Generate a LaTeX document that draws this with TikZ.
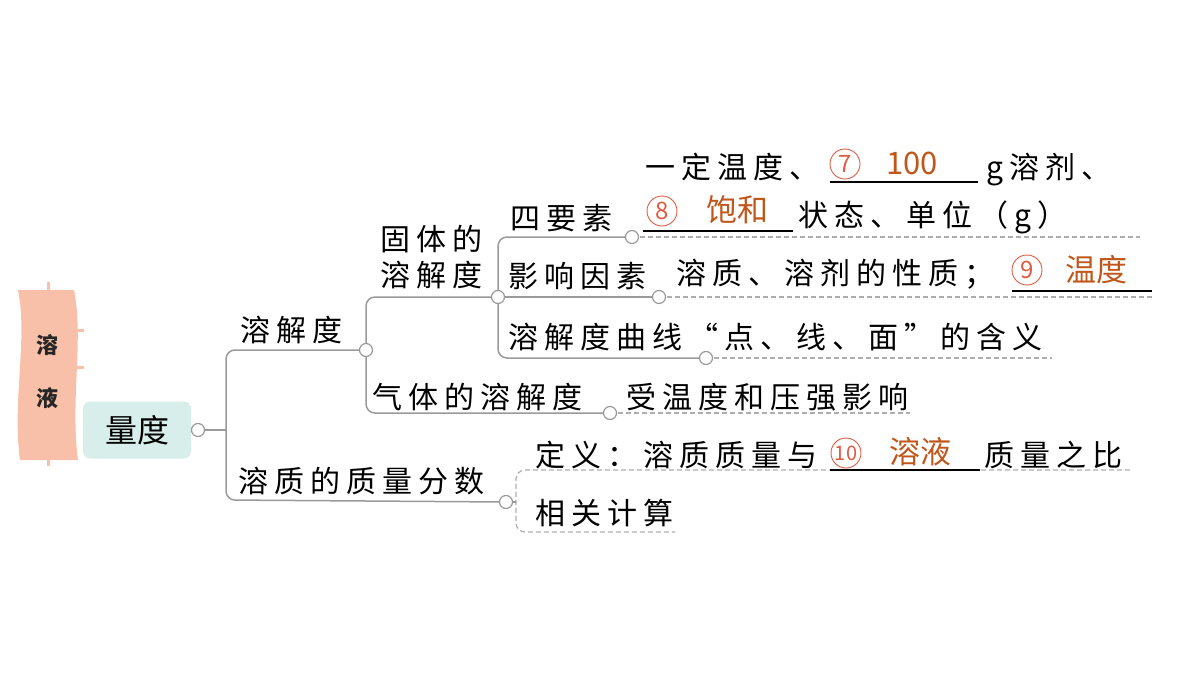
\documentclass[tikz,border=0pt]{standalone}
\usepackage{fontspec}
\newfontfamily\cjk[LetterSpace=20]{Noto Sans CJK SC}
\newfontfamily\cjkb{Noto Sans CJK SC}
\definecolor{ans}{HTML}{C0561A}
\definecolor{circ}{HTML}{E05A40}
\definecolor{pinkb}{HTML}{F8C0A8}
\definecolor{tealb}{HTML}{D8EEEA}
\definecolor{lin}{HTML}{9A9A9A}
\begin{document}
\begin{tikzpicture}[x=1pt,y=-1pt,
 t/.style={inner sep=0pt,anchor=base west,font=\fontsize{30}{32}\selectfont\cjk},
 a/.style={inner sep=0pt,anchor=base,text=ans,font=\fontsize{31}{33}\selectfont\cjkb},
 cn/.style={text=circ,inner sep=0pt,font=\fontsize{24}{26}\selectfont\cjkb,
   append after command={\pgfextra{\draw[circ,line width=0.9pt] (\tikzlastnode.center) circle[radius=15pt];}}},
 dot/.style={circle,draw=lin,fill=white,inner sep=0pt,minimum size=13pt,line width=1.2pt},
 br/.style={draw=lin,line width=1.5pt,rounded corners=9pt},
 dl/.style={draw=lin!80,line width=1.2pt,dash pattern=on 5pt off 3pt},
 ul/.style={line width=1.3pt}]
\useasboundingbox (0,0) rectangle (1200,675);
% banner
\draw[pinkb,line width=3pt] (48,282)--(48,290) (75,330)--(84,330) (75,367)--(84,367) (48,458)--(48,466);
\fill[pinkb] (18,290) .. controls (28,340) and (12,400) .. (20,460) -- (78,460) .. controls (70,400) and (84,340) .. (74,290) -- cycle;
\node[font=\fontsize{22}{24}\selectfont\cjkb\bfseries,text=black!85] (c1) at (47,345) {溶};
\node[font=\fontsize{22}{24}\selectfont\cjkb\bfseries,text=black!85] (c2) at (47,398) {液};
% root
\node[fill=tealb,rounded corners=7pt,minimum width=108pt,minimum height=57pt,font=\fontsize{32}{34}\selectfont\cjkb] (root) at (137,430) {量度};
\coordinate (rootc) at (198,430);
\coordinate (s1) at (366,350);
\coordinate (s2) at (506,502);
\draw[br] (root.east)--(226,430);
\draw[br] (s1)--(226,350)--(226,500)--(s2);
\node[t] (l1) at (240,341) {溶解度};
\node[t] (l2) at (238,492) {溶质的质量分数};
% level 2
\coordinate (g1) at (498,297);
\coordinate (q1) at (610,413);
\draw[br] (g1)--(366,297)--(366,413)--(q1);
\node[t] (gt1) at (380,250) {固体的};
\node[t] (gt2) at (380,286) {溶解度};
\node[t] (qt) at (372,408) {气体的溶解度};
\draw[dl] (q1)--(910,413);
\node[t] (qd) at (626,408) {受温度和压强影响};
% level 3
\coordinate (f1) at (632,237);
\coordinate (f2) at (659,297);
\coordinate (f3) at (706,358);
\draw[br] (f1)--(498,237)--(498,358)--(f3);
\draw[br] (g1)--(f2);
\draw[dl] (f1)--(1140,237);
\draw[dl] (f2)--(1152,297);
\draw[dl] (f3)--(1052,358);
\node[t] (ft1) at (510,229) {四要素};
\node[t] (ft2) at (508,287) {影响因素};
\node[t] (ft3) at (508,348) {溶解度曲线“点、线、面”的含义};
% row 1
\node[t] (r1a) at (645,178) {一定温度、};
\node[cn] (n7) at (845,164) {7};
\draw[ul] (830,182)--(978,182);
\node[a] (a7) at (912,174) {100};
\node[t] (r1b) at (986,178) {g溶剂、};
% row 2
\node[cn] (n8) at (662,211) {8};
\draw[ul] (643,231)--(793,231);
\node[a] (a8) at (737,221) {饱和};
\node[t] (r2b) at (798,226) {状态、单位（g）};
% row 3
\node[t] (r3a) at (676,284) {溶质、溶剂的性质；};
\node[cn] (n9) at (1027,270) {9};
\draw[ul] (1012,291)--(1152,291);
\node[a] (a9) at (1096,281) {温度};
% bottom
\draw[dl,rounded corners=9pt] (1130,470)--(516,470)--(516,532)--(675,532);
\draw[br] (s2)--(516,502);
\node[t] (d1) at (535,466) {定义：溶质质量与};
\node[cn,font=\fontsize{20}{22}\selectfont\cjkb] (n10) at (846,453) {10};
\draw[ul] (830,470)--(980,470);
\node[a] (a10) at (920,463) {溶液};
\node[t] (d2) at (984,466) {质量之比};
\node[t] (d3) at (535,524) {相关计算};
% dots
\foreach \p in {rootc,s1,s2,g1,q1,f1,f2,f3} \node[dot] at (\p) {};
\end{tikzpicture}
\end{document}
